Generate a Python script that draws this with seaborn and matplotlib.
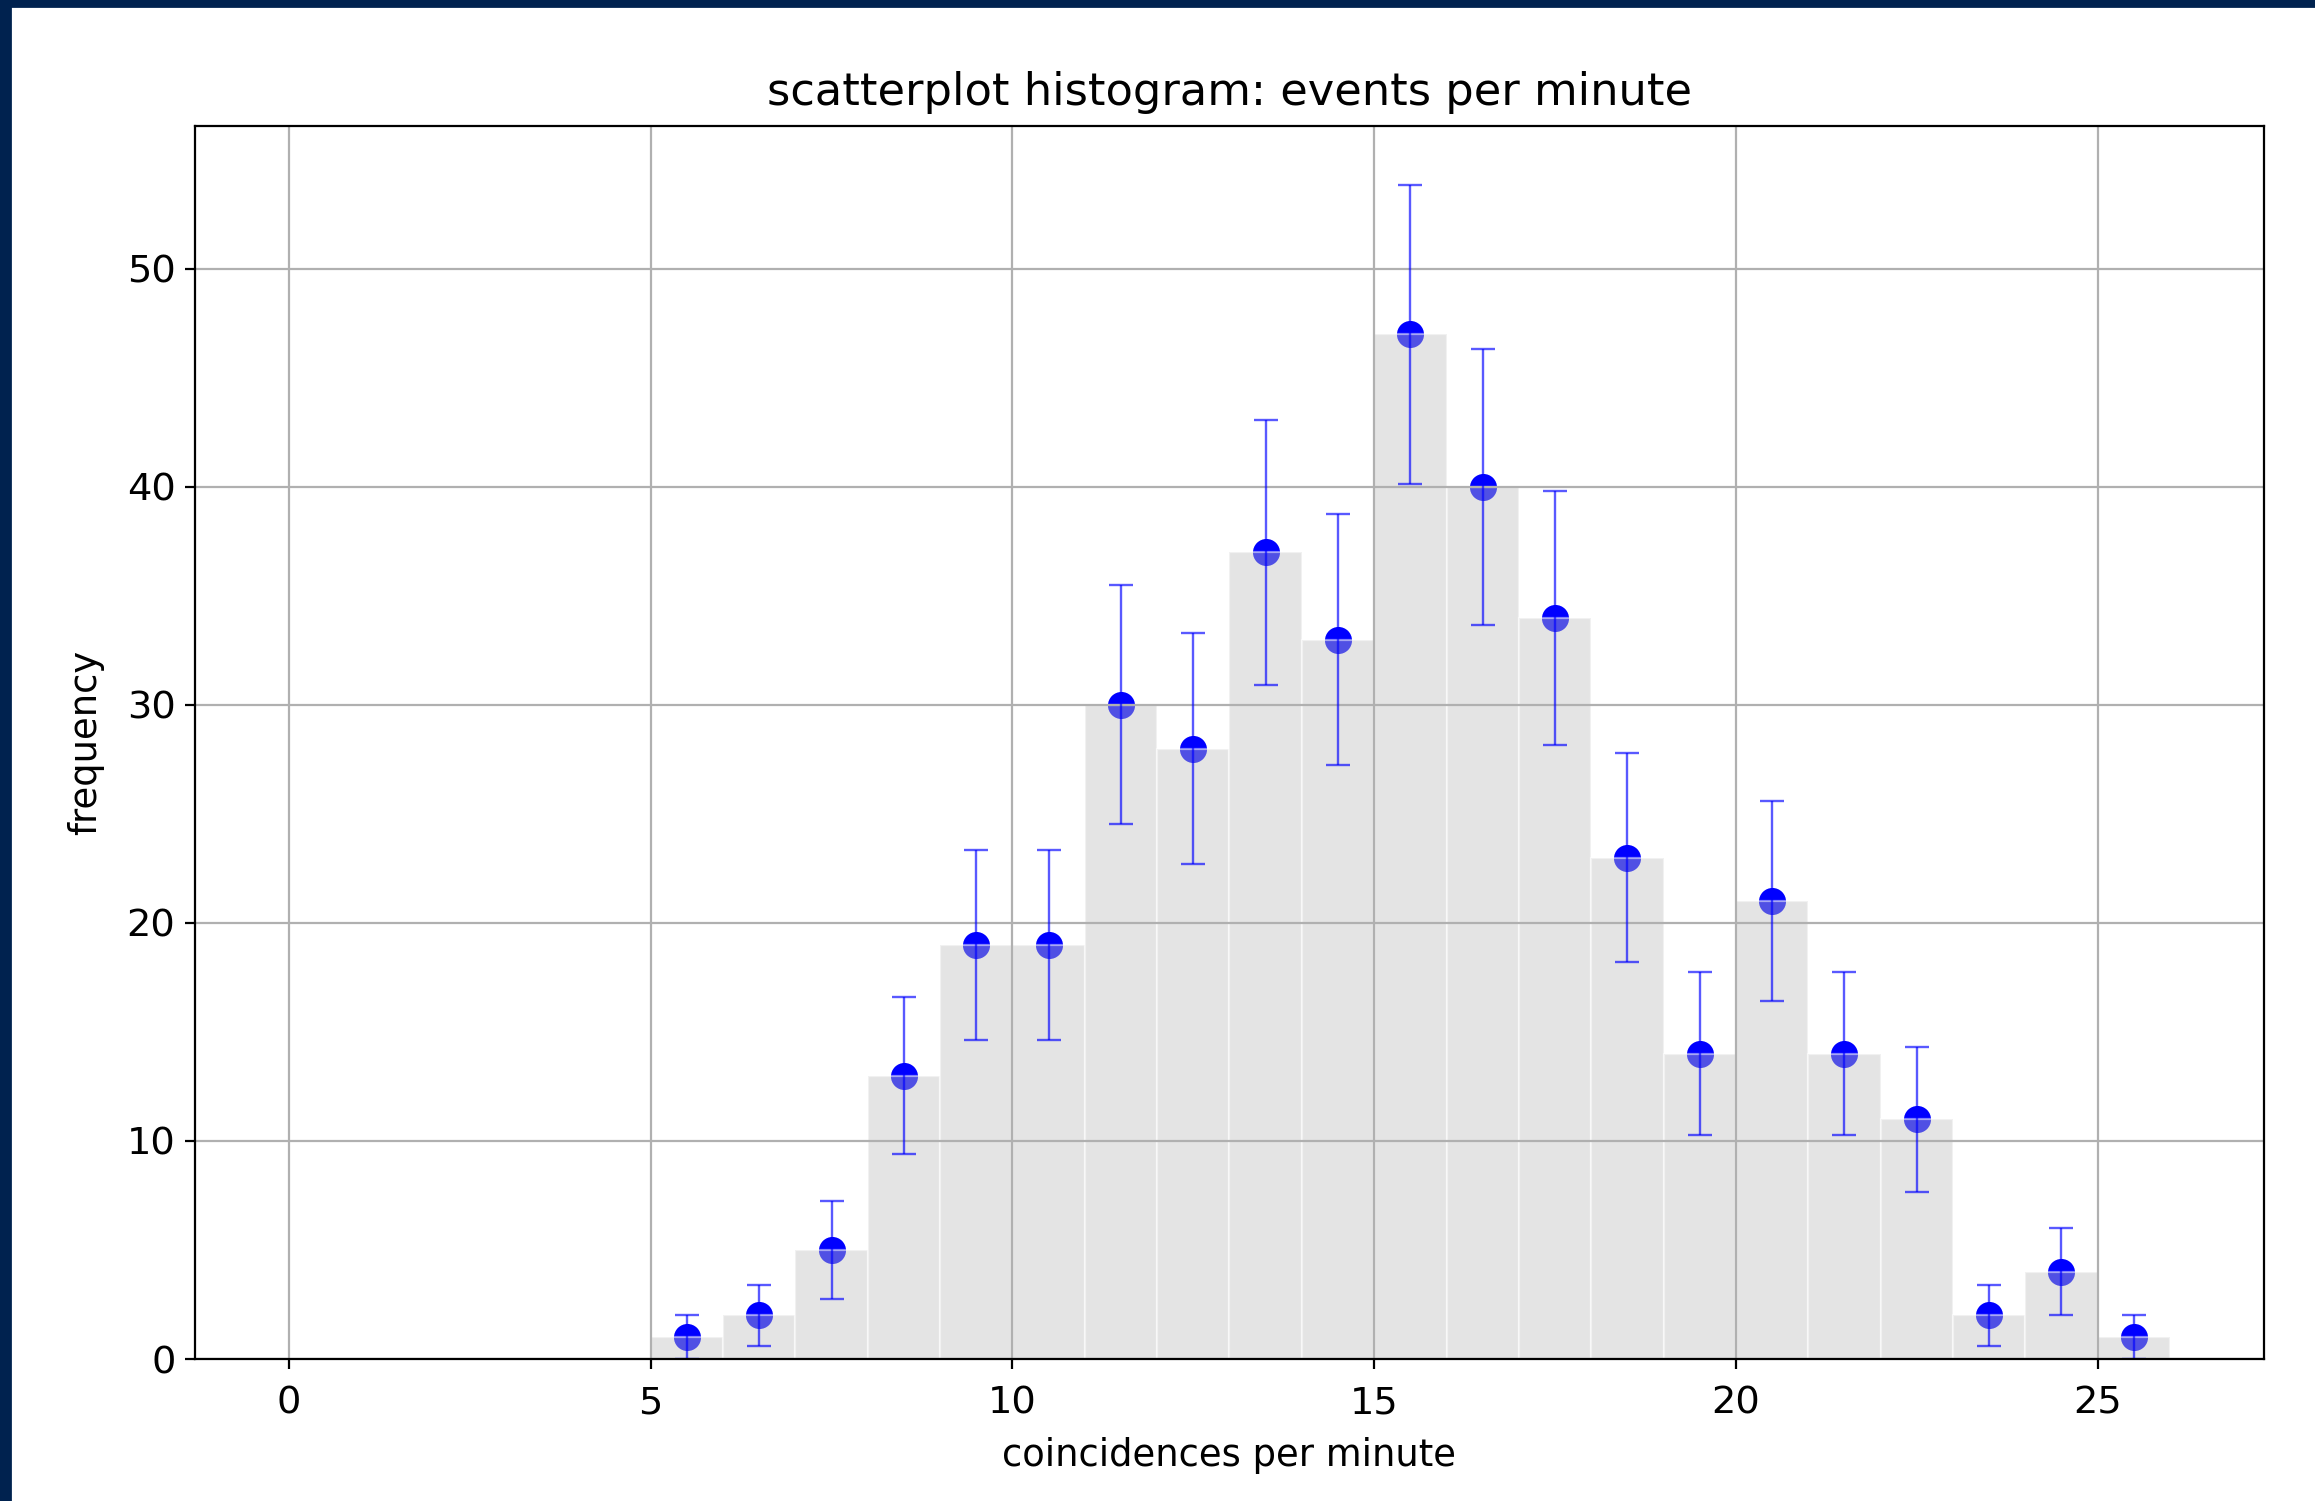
import matplotlib

matplotlib.use("Agg")
import matplotlib.pyplot as plt
import seaborn as sns
from matplotlib.patches import Rectangle

# bin centres (coincidences per minute) and counts
centros = [5.5, 6.5, 7.5, 8.5, 9.5, 10.5, 11.5, 12.5, 13.5, 14.5, 15.5,
           16.5, 17.5, 18.5, 19.5, 20.5, 21.5, 22.5, 23.5, 24.5, 25.5]
contagens = [1, 2, 5, 13, 19, 19, 30, 28, 37, 33, 47,
             40, 34, 23, 14, 21, 14, 11, 2, 4, 1]
# error bar half-lengths (sqrt of counts, as drawn)
erros = [1.00, 1.41, 2.24, 3.61, 4.36, 4.36, 5.48, 5.29, 6.08, 5.74, 6.86,
         6.32, 5.83, 4.80, 3.74, 4.58, 3.74, 3.32, 1.41, 2.00, 1.00]
bordas = list(range(0, 27))

plt.rcParams["font.family"] = ["DejaVu Sans"]
plt.rcParams["font.size"] = 13.8

fig = plt.figure(figsize=(2315 / 200, 1501 / 200), dpi=200)
ax = fig.add_axes([0.0842, 0.0946, 0.978 - 0.0842, 0.916 - 0.0946])

sns.scatterplot(x=centros, y=contagens, color="blue", s=95, linewidth=0, ax=ax)

sns.histplot(
    x=centros,
    weights=contagens,
    bins=bordas,
    color="#c0c0c0",
    alpha=0.42,
    edgecolor=(1, 1, 1, 0.5),
    linewidth=0.8,
    ax=ax,
)

ax.errorbar(
    centros,
    contagens,
    yerr=erros,
    fmt="none",
    ecolor="blue",
    elinewidth=0.85,
    capsize=4.2,
    capthick=0.85,
    alpha=0.65,
)

ax.grid(True, color="#b0b0b0", linewidth=0.8)
ax.tick_params(axis="x", pad=6)
ax.set_title("scatterplot histogram: events per minute", fontsize=16.1, pad=7.6)
ax.set_xlabel("coincidences per minute", fontsize=13.3, labelpad=5.5)
ax.set_ylabel("frequency", fontsize=13.3, labelpad=8)
ax.set_ylim(bottom=0)

# dark frame on left and top edges of the screenshot
fig.add_artist(Rectangle((0, 0), 10 / 2315, 1, transform=fig.transFigure,
                         color="#00224f", zorder=10))
fig.add_artist(Rectangle((0, 1 - 6 / 1501), 1, 6 / 1501, transform=fig.transFigure,
                         color="#00224f", zorder=10))

fig.savefig("out.png", dpi=200)
